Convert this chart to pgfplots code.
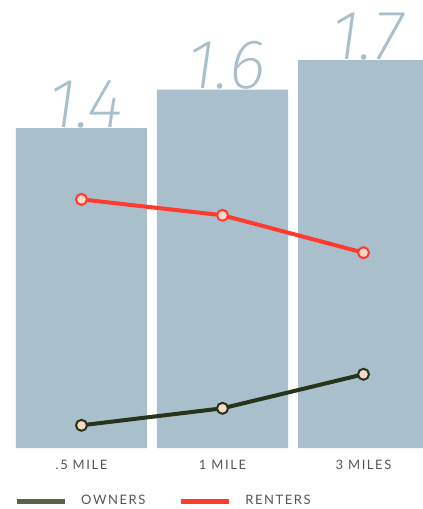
\documentclass[border=0pt]{standalone}
\usepackage{fontspec}
\usepackage{pgfplots}
\pgfplotsset{compat=1.18}
\setmainfont{Lato}
\newfontfamily\labfont{Lato}[LetterSpace=12]
\newfontfamily\valfont{Fira Sans ExtraLight}[Numbers=Proportional]

\definecolor{barblue}{HTML}{A9BFCC}
\definecolor{rentred}{HTML}{FF3B30}
\definecolor{ownline}{HTML}{27331A}
\definecolor{ownleg}{HTML}{58634E}
\definecolor{markfill}{HTML}{F9D9C6}
\definecolor{tickgray}{HTML}{555555}

\begin{document}
\begin{tikzpicture}
\begin{axis}[
    at={(0,0)}, anchor=south west,
    scale only axis, width=423bp, height=448bp,
    xmin=-0.578, xmax=2.422,
    ymin=0, ymax=1.975,
    axis line style={draw=none},
    tick style={draw=none},
    xtick={0,1,2},
    xticklabels={.5 MILE,1 MILE,3 MILES},
    ytick=\empty,
    xticklabel style={font=\fontsize{13bp}{13bp}\labfont, text=tickgray,
        anchor=base, yshift=-21bp},
    legend columns=2,
    legend image code/.code={\draw[#1, line width=5bp] (0bp,0bp) -- (48bp,0bp);},
    legend style={draw=none, fill=none, at={(0,0)}, anchor=west,
        xshift=11bp, yshift=-53bp,
        font=\fontsize{13bp}{13bp}\labfont, text=tickgray,
        /tikz/every odd column/.append style={column sep=12bp},
        /tikz/every even column/.append style={column sep=31bp}},
]

% bars, values shown rounded to one decimal
\addplot[ybar, bar width=131bp, fill=barblue, draw=none, forget plot,
    nodes near coords={\pgfmathprintnumber[fixed, fixed zerofill, precision=1,
        assume math mode=true]{\pgfplotspointmeta}},
    nodes near coords style={anchor=base, yshift=1bp, xshift=4bp,
        text=barblue, font={\fontsize{70bp}{70bp}\valfont\itshape}}]
    coordinates {(0,1.41) (1,1.58) (2,1.71)};

% renters
\addplot[rentred, line width=4bp, mark=*, mark size=5.5bp, forget plot,
    mark options={fill=markfill, draw=rentred, line width=2bp}]
    coordinates {(0,1.096) (1,1.026) (2,0.861)};

% owners
\addplot[ownline, line width=4bp, mark=*, mark size=5.5bp, forget plot,
    mark options={fill=markfill, draw=ownline, line width=2bp}]
    coordinates {(0,0.100) (1,0.175) (2,0.325)};

\addlegendimage{ownleg}
\addlegendentry{OWNERS}
\addlegendimage{rentred}
\addlegendentry{RENTERS}
\end{axis}
\pgfresetboundingbox
\useasboundingbox (0,-61bp) rectangle (423bp,448bp);
\end{tikzpicture}
\end{document}
